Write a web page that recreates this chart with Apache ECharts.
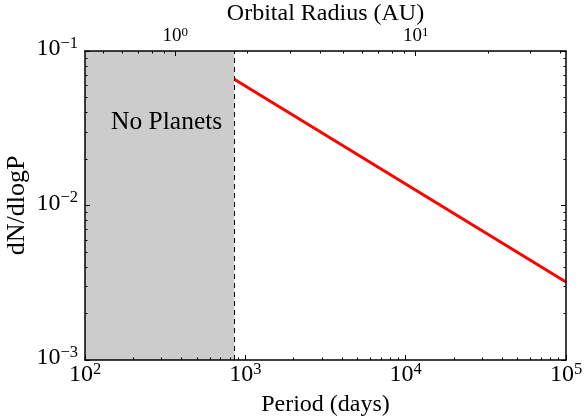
<!DOCTYPE html>
<html>
<head>
<meta charset="utf-8">
<script src="https://cdn.jsdelivr.net/npm/echarts@6/dist/echarts.min.js"></script>
<style>
html,body{margin:0;padding:0;background:#fff;}
#c{width:584px;height:419px;}
</style>
</head>
<body>
<div id="c"></div>
<script>
// ---- data ----
const periodDays = [853, 100000];
const dNdlogP = [0.0656, 0.0032];
const noPlanetRange = [100, 853];
const noPlanetLabel = 'No Planets';
const xTitle = 'Period (days)';
const yTitle = 'dN/dlogP';
const topTitle = 'Orbital Radius (AU)';
const xMajor = [100, 1000, 10000, 100000];
const yMajor = [0.001, 0.01, 0.1];
const auMajor = [1, 10];

const FONT = 'Liberation Serif';
function minors(lo, hi) {
  const out = [];
  for (let d = Math.floor(Math.log10(lo)); d <= Math.ceil(Math.log10(hi)); d++) {
    const b = Math.pow(10, d);
    for (let k = 2; k <= 9; k++) {
      const v = +(k * b).toPrecision(6);
      if (v >= lo && v <= hi) out.push(v);
    }
  }
  return out;
}
const auOf = p => Math.pow(p / 365.25, 2 / 3);
const auMin = auOf(100), auMax = auOf(100000);

function fmt(v) {
  const e = Math.round(Math.log10(v));
  return '{b|10}{s|' + String(e).replace('-', '\u2212') + '}';
}
const richBig = {
  b: {fontFamily: FONT, fontSize: 24, color: '#000', lineHeight: 26, verticalAlign: 'bottom'},
  s: {fontFamily: FONT, fontSize: 16.5, color: '#000', lineHeight: 16, verticalAlign: 'top'}
};
const richSmall = {
  b: {fontFamily: FONT, fontSize: 19, color: '#000', lineHeight: 20, verticalAlign: 'bottom'},
  s: {fontFamily: FONT, fontSize: 13, color: '#000', lineHeight: 13, verticalAlign: 'top'}
};
const axLine = {show: true, lineStyle: {color: '#000', width: 1.5}};
const majTick = (vals) => ({show: true, inside: true, length: 5, customValues: vals, lineStyle: {color: '#000', width: 1}});
const minTick = (vals) => ({show: true, inside: true, length: 2.5, customValues: vals, lineStyle: {color: '#000', width: 1}});

const base = {type: 'log', logBase: 10, splitLine: {show: false}, z: 10, nameMoveOverlap: false};

const chart = echarts.init(document.getElementById('c'), null, {renderer: 'canvas'});
chart.setOption({
  animation: false,
  backgroundColor: '#fff',
  grid: {left: 85, right: 18, top: 51, bottom: 59, containLabel: false, outerBoundsMode: 'none'},
  xAxis: [
    Object.assign({}, base, {
      position: 'bottom', min: 100, max: 100000,
      axisLine: axLine, axisTick: majTick(xMajor),
      axisLabel: {show: true, customValues: xMajor, formatter: fmt, rich: richBig, margin: 1},
      name: xTitle, nameLocation: 'middle', nameGap: 33,
      nameTextStyle: {fontFamily: FONT, fontSize: 24, color: '#000'}
    }),
    Object.assign({}, base, {
      position: 'bottom', min: 100, max: 100000,
      axisLine: {show: false}, axisTick: minTick(minors(100, 100000)), axisLabel: {show: false}
    }),
    Object.assign({}, base, {
      position: 'top', min: auMin, max: auMax,
      axisLine: axLine, axisTick: majTick(auMajor),
      axisLabel: {show: true, customValues: auMajor, formatter: fmt, rich: richSmall, margin: 5},
      name: topTitle, nameLocation: 'middle', nameGap: 25,
      nameTextStyle: {fontFamily: FONT, fontSize: 24, color: '#000'}
    }),
    Object.assign({}, base, {
      position: 'top', min: auMin, max: auMax,
      axisLine: {show: false}, axisTick: minTick(minors(auMin, auMax)), axisLabel: {show: false}
    })
  ],
  yAxis: [
    Object.assign({}, base, {
      position: 'left', min: 0.001, max: 0.1,
      axisLine: axLine, axisTick: majTick(yMajor),
      axisLabel: {show: true, customValues: yMajor, formatter: fmt, rich: richBig, margin: 7, padding: [0, 0, 6, 0]},
      name: yTitle, nameLocation: 'middle', nameGap: 55, nameRotate: 90,
      nameTextStyle: {fontFamily: FONT, fontSize: 26, color: '#000'}
    }),
    Object.assign({}, base, {
      position: 'left', min: 0.001, max: 0.1,
      axisLine: {show: false}, axisTick: minTick(minors(0.001, 0.1)), axisLabel: {show: false}
    }),
    Object.assign({}, base, {
      position: 'right', min: 0.001, max: 0.1,
      axisLine: axLine, axisTick: majTick(yMajor), axisLabel: {show: false}
    }),
    Object.assign({}, base, {
      position: 'right', min: 0.001, max: 0.1,
      axisLine: {show: false}, axisTick: minTick(minors(0.001, 0.1)), axisLabel: {show: false}
    })
  ],
  series: [{
    type: 'line',
    xAxisIndex: 0, yAxisIndex: 0,
    data: periodDays.map((p, i) => [p, dNdlogP[i]]),
    symbol: 'none',
    lineStyle: {color: '#ff0000', width: 3},
    z: 3,
    markArea: {
      silent: true,
      itemStyle: {color: '#cccccc'},
      label: {show: true, position: 'insideTop', distance: 58, offset: [7, 0],
        fontFamily: FONT, fontSize: 25.5, color: '#000'},
      data: [[{xAxis: noPlanetRange[0], name: noPlanetLabel}, {xAxis: noPlanetRange[1]}]]
    },
    markLine: {
      silent: true, symbol: ['none', 'none'],
      label: {show: false},
      lineStyle: {color: '#000', type: [5, 4], width: 1},
      data: [{xAxis: noPlanetRange[1]}]
    }
  }]
});
</script>
</body>
</html>
